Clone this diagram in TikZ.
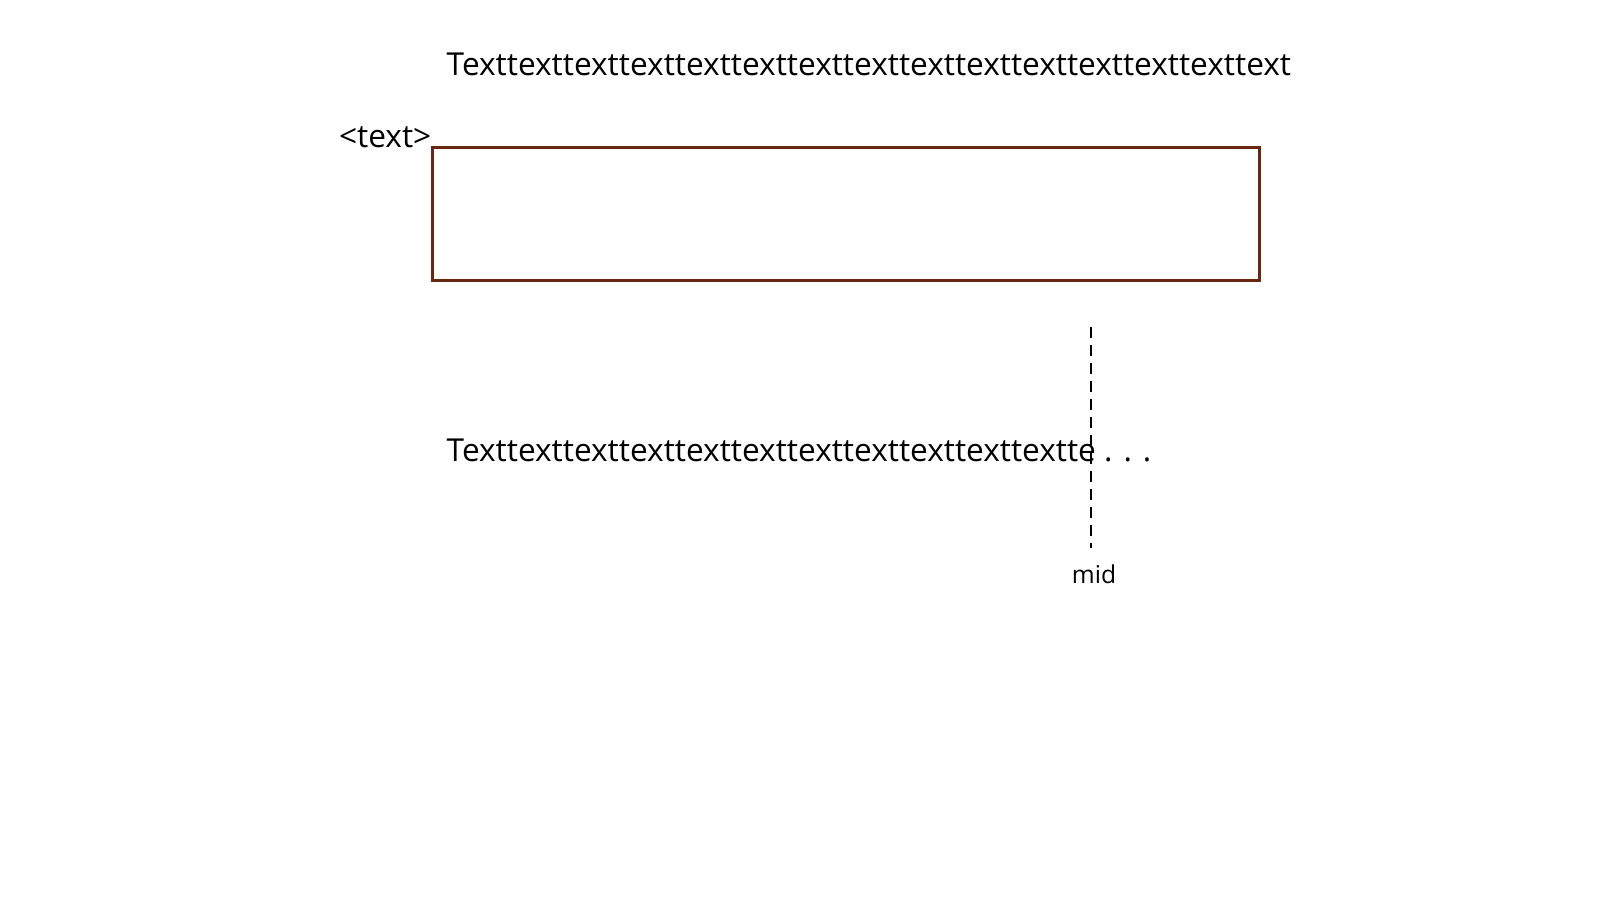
\documentclass[tikz,border=0pt]{standalone}
\usepackage{fontspec}
\setmainfont{Open Sans}
\usetikzlibrary{positioning}
\definecolor{rust}{RGB}{102,40,16}
\begin{document}
\begin{tikzpicture}[]
  \newcommand{\Xtext}[0]{ 44.6mm }
  \newcommand{\Xframe}[0]{ 43.1mm }
  \newcommand{\Xcut}[0]{ 109.1mm }
  \newcommand{\Ytitle}[0]{ -7.5mm }
  \newcommand{\Yframe}[0]{ -14.6mm }
  \newcommand{\Ybody}[0]{ -46.1mm }

  \tikzstyle{label} = [
    anchor=base west,
    inner sep=0pt,
    font=\fontsize{9pt}{11pt}\selectfont,
  ]
  \tikzstyle{note} = [
    inner sep=0pt,
    font=\fontsize{7pt}{9pt}\selectfont,
  ]
  \tikzstyle{frame} = [
    rectangle,
    draw=rust,
    line width=0.8pt,
    anchor=north west,
    minimum width=82.7mm,
    minimum height=13.3mm,
  ]
  \tikzstyle{cutline} = [line width=0.75pt,dash pattern=on 1.1mm off 0.7mm,draw=black]

  % canvas
  \useasboundingbox (0,0) rectangle (160mm,-90mm);

  % title line
  \node[label] (title) at (\Xtext, \Ytitle)
    {Texttexttexttexttexttexttexttexttexttexttexttexttexttexttext};

  % framed field
  \node[frame] (field) at (\Xframe, \Yframe) {};
  \node[label, anchor=base east] (tag) at ([xshift=0.1mm,yshift=-0.1mm]field.north west) {<text>};

  % truncated line
  \node[label] (body) at (\Xtext, \Ybody)
    {Texttexttexttexttexttexttexttexttexttexttextte . . .};

  % cut marker
  \coordinate (cut top) at (\Xcut, -32.7mm);
  \coordinate (cut bot) at (\Xcut, -54.8mm);
  \draw[cutline] (cut top) -- (cut bot);
  \node[note, anchor=north] (mid) at ([xshift=0.3mm,yshift=-1.6mm]cut bot) {mid};
\end{tikzpicture}
\end{document}
